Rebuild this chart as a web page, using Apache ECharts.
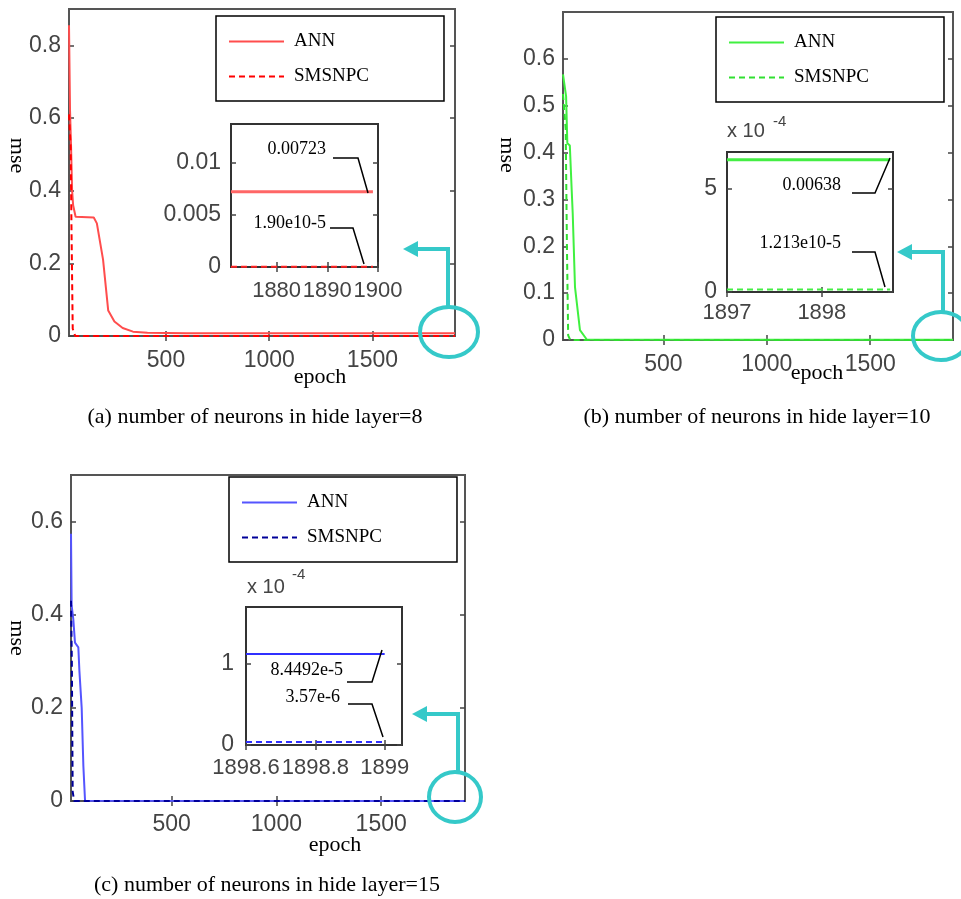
<!DOCTYPE html>
<html>
<head>
<meta charset="utf-8">
<title>mse vs epoch</title>
<script src="https://cdn.jsdelivr.net/npm/echarts@6.0.0/dist/echarts.min.js"></script>
<style>
html, body { margin: 0; padding: 0; background: #fff; }
#main { width: 961px; height: 899px; }
</style>
</head>
<body>
<div id="main"></div>
<script>
// ---- data: [epoch, mse] ----
var annA = [[30, 0.855], [35, 0.62], [40, 0.52], [45, 0.40], [50, 0.36], [62, 0.328], [150, 0.326], [165, 0.31],
            [195, 0.21], [220, 0.07], [250, 0.04], [290, 0.022], [340, 0.012], [410, 0.009], [600, 0.0075], [1900, 0.00723]];
var smsA = [[30, 0.61], [38, 0.52], [42, 0.3], [48, 0.02], [60, 0.0002], [1900, 0.000019]];
var annB = [[15, 0.567], [30, 0.52], [36, 0.42], [48, 0.415], [57, 0.32], [62, 0.27], [73, 0.113], [97, 0.021],
            [130, 0.001], [1900, 0.000638]];
var smsB = [[15, 0.525], [28, 0.45], [34, 0.2], [40, 0.01], [50, 0.0001], [1900, 0.00001213]];
var annC = [[20, 0.574], [23, 0.42], [31, 0.39], [39, 0.34], [55, 0.33], [60, 0.28], [71, 0.2], [79, 0.075],
            [87, 0.0005], [1900, 0.000112]];
var smsC = [[20, 0.43], [24, 0.3], [28, 0.02], [35, 0.00005], [1900, 0.00000357]];

// zoomed insets
var annAZoom = [[1871, 0.00723], [1899, 0.00723]];
var smsAZoom = [[1871, 0.000019], [1899, 0.000019]];
var annBZoom = [[1897, 0.000638], [1898.72, 0.000638]];
var smsBZoom = [[1897, 0.00001213], [1898.72, 0.00001213]];
var annCZoom = [[1898.6, 0.000112], [1899, 0.000112]];
var smsCZoom = [[1898.6, 0.00000357], [1899, 0.00000357]];

// tick values
var xTicksMain = [500, 1000, 1500];
var yTicksA = [0, 0.2, 0.4, 0.6, 0.8];
var yTicksB = [0, 0.1, 0.2, 0.3, 0.4, 0.5, 0.6];
var yTicksC = [0, 0.2, 0.4, 0.6];
var xTicksAZoom = [1880, 1890, 1900];
var yTicksAZoom = [0, 0.005, 0.01];
var xTicksBZoom = [1897, 1898];
var yTicksBZoom = [0, 0.0005];
var xTicksCZoom = [1898.6, 1898.8, 1899];
var yTicksCZoom = [0, 0.0001];

var captions = ['(a) number of neurons in hide layer=8', '(b) number of neurons in hide layer=10', '(c) number of neurons in hide layer=15'];
var notes = ['0.00723', '1.90e10-5', '0.00638', '1.213e10-5', '8.4492e-5', '3.57e-6'];

// ---- layout ----
var chart = echarts.init(document.getElementById('main'));

var boxes = [
    {left: 69, top: 9, width: 386, height: 327},
    {left: 563, top: 12, width: 390, height: 328},
    {left: 71, top: 475, width: 394, height: 326},
    {left: 231, top: 124, width: 147, height: 143},
    {left: 727, top: 152, width: 166, height: 140},
    {left: 246, top: 607, width: 156, height: 138}
];

var plain = function (v) { return String(v); };
var e4 = function (v) { return String(Math.round(v * 1e4)); };

var axesSpec = [
    {x: [30, 1900], y: [0, 0.9], xt: xTicksMain, yt: yTicksA, xm: 13, ym: 8, xGap: 30, xPad: 116, yGap: 41, yPad: 34},
    {x: [15, 1900], y: [0, 0.7], xt: xTicksMain, yt: yTicksB, xm: 13, ym: 8, xGap: 22, xPad: 118, yGap: 45, yPad: 42},
    {x: [20, 1900], y: [0, 0.7], xt: xTicksMain, yt: yTicksC, xm: 12, ym: 8, xGap: 33, xPad: 134, yGap: 43, yPad: 0},
    {x: [1871, 1900], y: [0, 0.01375], xt: xTicksAZoom, yt: yTicksAZoom, xm: 13, ym: 10},
    {x: [1897, 1898.75], y: [0, 0.000675], xt: xTicksBZoom, yt: yTicksBZoom, xm: 10, ym: 10, yf: e4},
    {x: [1898.6, 1899.05], y: [0, 0.00017], xt: xTicksCZoom, yt: yTicksCZoom, xm: 12, ym: 12, yf: e4}
];

var grids = [], xAxes = [], yAxes = [];
var tickStyle = {lineStyle: {color: '#444', width: 1.5}};
var labStyle = {fontFamily: 'Liberation Sans', fontSize: 23, color: '#444', hideOverlap: false};

axesSpec.forEach(function (s, i) {
    var inset = i >= 3;
    var z = inset ? 4 : 1;
    grids.push(Object.assign({
        show: true, borderColor: inset ? '#333' : '#555', borderWidth: 2,
        backgroundColor: inset ? '#fff' : 'transparent', z: inset ? 3 : 0
    }, boxes[i]));

    var bottom = {
        gridIndex: i, type: 'value', position: 'bottom', min: s.x[0], max: s.x[1], z: z,
        splitLine: {show: false}, axisLine: {show: false},
        axisTick: Object.assign({inside: true, length: 5, customValues: s.xt}, tickStyle),
        axisLabel: Object.assign({customValues: s.xt, margin: s.xm, formatter: plain}, labStyle,
            inset ? {fontSize: 22} : {})
    };
    if (!inset) {
        bottom.name = 'epoch';
        bottom.nameLocation = 'middle';
        bottom.nameGap = s.xGap;
        bottom.nameMoveOverlap = false;
        bottom.nameTextStyle = {fontFamily: 'Liberation Serif', fontSize: 22, color: '#000', padding: [0, 0, 0, s.xPad]};
    }
    xAxes.push(bottom);
    xAxes.push({
        gridIndex: i, type: 'value', position: 'top', min: s.x[0], max: s.x[1], z: z,
        splitLine: {show: false}, axisLine: {show: false}, axisLabel: {show: false},
        axisTick: Object.assign({inside: true, length: 5, customValues: s.xt}, tickStyle)
    });

    var left = {
        gridIndex: i, type: 'value', position: 'left', min: s.y[0], max: s.y[1], z: z,
        splitLine: {show: false}, axisLine: {show: false},
        axisTick: Object.assign({inside: true, length: 5, customValues: s.yt}, tickStyle),
        axisLabel: Object.assign({customValues: s.yt, margin: s.ym, formatter: s.yf || plain}, labStyle)
    };
    if (!inset) {
        left.name = 'mse';
        left.nameLocation = 'middle';
        left.nameRotate = -90;
        left.nameGap = s.yGap;
        left.nameMoveOverlap = false;
        left.nameTextStyle = {fontFamily: 'Liberation Serif', fontSize: 22, color: '#000', padding: [0, s.yPad, 0, 0]};
    }
    yAxes.push(left);
    yAxes.push({
        gridIndex: i, type: 'value', position: 'right', min: s.y[0], max: s.y[1], z: z,
        splitLine: {show: false}, axisLine: {show: false}, axisLabel: {show: false},
        axisTick: Object.assign({inside: true, length: 5, customValues: s.yt}, tickStyle)
    });
});

function line(name, gi, data, color, width, dashed) {
    return {
        name: name, type: 'line', xAxisIndex: gi * 2, yAxisIndex: gi * 2, data: data,
        symbol: 'none', silent: true, z: gi >= 3 ? 5 : 2,
        lineStyle: {color: color, width: width, type: dashed ? [6, 4] : 'solid'},
        itemStyle: {color: color}
    };
}

var series = [
    line('ANN_a', 0, annA, '#ff4d4d', 2),
    line('SMSNPC_a', 0, smsA, '#ff0000', 2, true),
    line('ANN_b', 1, annB, '#40f040', 2),
    line('SMSNPC_b', 1, smsB, '#30e030', 2, true),
    line('ANN_c', 2, annC, '#5555ff', 2),
    line('SMSNPC_c', 2, smsC, '#000099', 2, true),
    line('ANN_az', 3, annAZoom, '#ff6666', 3),
    line('SMSNPC_az', 3, smsAZoom, '#ff2020', 2, true),
    line('ANN_bz', 4, annBZoom, '#44ee44', 3),
    line('SMSNPC_bz', 4, smsBZoom, '#44ee44', 2, true),
    line('ANN_cz', 5, annCZoom, '#3030ff', 2),
    line('SMSNPC_cz', 5, smsCZoom, '#3030ff', 2, true)
];

function legendAt(left, top, tag) {
    return {
        orient: 'vertical', left: left, top: top, data: ['ANN_' + tag, 'SMSNPC_' + tag],
        formatter: function (n) { return n.split('_')[0]; },
        itemWidth: 55, itemHeight: 14, itemGap: 16, padding: [16, 75, 15, 12],
        borderColor: '#000', borderWidth: 1.5, backgroundColor: '#fff',
        selectedMode: false,
        itemStyle: {opacity: 0},
        textStyle: {fontFamily: 'Liberation Serif', fontSize: 19, color: '#000', padding: [0, 0, 0, 5]}
    };
}

// decorations: captions, exponents, call-outs, arrows
var serif18 = '18px "Liberation Serif"';
var teal = '#35c9c9';
var graphic = [];
function txt(x, y, s, font, align, valign, color) {
    graphic.push({type: 'text', x: x, y: y, z: 10,
        style: {text: s, font: font, fill: color || '#000', align: align, verticalAlign: valign}});
}
function poly(points, color, w) {
    graphic.push({type: 'polyline', z: 10, shape: {points: points}, style: {stroke: color, lineWidth: w, fill: null}});
}
txt(255, 417, captions[0], '22px "Liberation Serif"', 'center', 'middle');
txt(757, 417, captions[1], '22px "Liberation Serif"', 'center', 'middle');
txt(267, 885, captions[2], '22px "Liberation Serif"', 'center', 'middle');

txt(727, 141, 'x 10', '20px "Liberation Sans"', 'left', 'bottom', '#444');
txt(773, 129, '-4', '15px "Liberation Sans"', 'left', 'bottom', '#444');
txt(247, 597, 'x 10', '20px "Liberation Sans"', 'left', 'bottom', '#444');
txt(292, 582, '-4', '15px "Liberation Sans"', 'left', 'bottom', '#444');

txt(326, 149, notes[0], serif18, 'right', 'middle');
poly([[333, 158], [358, 158], [368, 193]], '#000', 1.5);
txt(326, 223, notes[1], serif18, 'right', 'middle');
poly([[330, 228], [353, 228], [364, 264]], '#000', 1.5);
txt(841, 185, notes[2], serif18, 'right', 'middle');
poly([[852, 193], [875, 193], [890, 158]], '#000', 1.5);
txt(841, 243, notes[3], serif18, 'right', 'middle');
poly([[852, 252], [875, 252], [885, 287]], '#000', 1.5);
txt(343, 670, notes[4], serif18, 'right', 'middle');
poly([[347, 682], [372, 682], [382, 650]], '#000', 1.5);
txt(340, 697, notes[5], serif18, 'right', 'middle');
poly([[348, 704], [372, 704], [383, 737]], '#000', 1.5);

function callout(cx, cy, rx, ry, vx, topY, tipX) {
    graphic.push({type: 'ellipse', z: 10, shape: {cx: cx, cy: cy, rx: rx, ry: ry}, style: {stroke: teal, lineWidth: 4, fill: null}});
    poly([[vx, cy - ry], [vx, topY], [tipX + 13, topY]], teal, 4);
    graphic.push({type: 'polygon', z: 10, shape: {points: [[tipX, topY], [tipX + 15, topY - 8], [tipX + 15, topY + 8]]}, style: {fill: teal}});
}
callout(449, 332, 29, 25, 448, 249, 403);
callout(941, 336, 28, 24, 943, 252, 897);
callout(455, 797, 26, 25, 458, 714, 412);

chart.setOption({
    animation: false,
    backgroundColor: '#fff',
    grid: grids,
    xAxis: xAxes,
    yAxis: yAxes,
    legend: [legendAt(216, 16, 'a'), legendAt(716, 17, 'b'), legendAt(229, 477, 'c')],
    series: series,
    graphic: graphic
});
</script>
</body>
</html>
